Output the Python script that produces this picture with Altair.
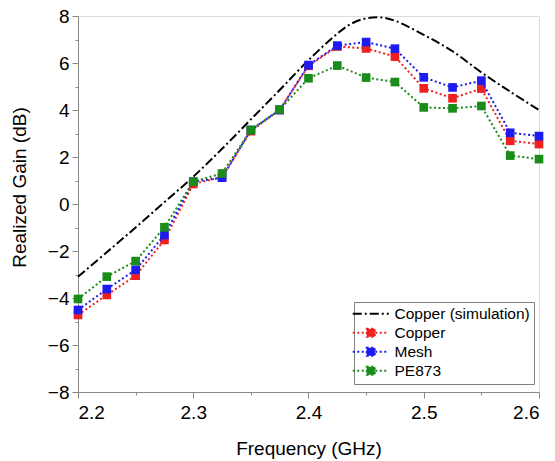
import altair as alt
import pandas as pd

# ---- data ----
freq = [2.2, 2.225, 2.25, 2.275, 2.3, 2.325, 2.35, 2.375, 2.4, 2.425,
        2.45, 2.475, 2.5, 2.525, 2.55, 2.575, 2.6]
copper = [-4.72, -3.87, -3.05, -1.53, 0.85, 1.15, 3.1, 4.0, 5.88, 6.7,
          6.62, 6.27, 4.92, 4.5, 4.91, 2.69, 2.55]
mesh = [-4.51, -3.62, -2.8, -1.32, 0.95, 1.12, 3.15, 4.0, 5.91, 6.74,
        6.89, 6.61, 5.39, 4.96, 5.25, 3.03, 2.89]
pe873 = [-4.04, -3.09, -2.43, -0.99, 0.95, 1.3, 3.15, 4.02, 5.35, 5.89,
         5.38, 5.19, 4.11, 4.07, 4.17, 2.06, 1.91]

sim_freq = [2.2, 2.225, 2.25, 2.275, 2.3, 2.325, 2.35, 2.375, 2.4, 2.425,
            2.4375, 2.45, 2.4625, 2.475, 2.5, 2.525, 2.55, 2.575, 2.6]
sim_gain = [-3.1, -2.05, -1.0, 0.08, 1.16, 2.35, 3.6, 4.85, 6.12, 7.25,
            7.68, 7.9, 7.94, 7.8, 7.2, 6.5, 5.6, 4.78, 4.0]

series_names = ["Copper (simulation)", "Copper", "Mesh", "PE873"]
series_colors = ["#000000", "#ee2020", "#1c1cf0", "#1a8c1a"]
series_dash = [[9, 3, 2, 3], [2, 2.5], [2, 2.5], [2, 2.5]]

x_ticks = [2.2, 2.25, 2.3, 2.35, 2.4, 2.45, 2.5, 2.55, 2.6]
y_ticks = list(range(-8, 9))

FONT = "Liberation Sans"

sim_df = pd.DataFrame({"f": sim_freq, "g": sim_gain, "s": series_names[0]})
meas = {"Copper": copper, "Mesh": mesh, "PE873": pe873}

color_scale = alt.Scale(domain=series_names, range=series_colors)
dash_scale = alt.Scale(domain=series_names, range=series_dash)

sq = "M-3,0L3,0M-0.68,-0.68L0.68,-0.68L0.68,0.68L-0.68,0.68Z"
ln = "M-3,0L3,0"
shape_scale = alt.Scale(domain=series_names, range=[ln, sq, sq, sq])

legend = alt.Legend(
    title=None, orient="none", legendX=276, legendY=286,
    strokeColor="#808080", fillColor="white", padding=4, cornerRadius=0,
    labelFont=FONT, labelFontSize=15.5, labelColor="black",
    symbolSize=144, symbolStrokeWidth=1.8, symbolOffset=5, labelOffset=16,
    rowPadding=2, symbolOpacity=1,
)

x_axis = alt.Axis(
    values=x_ticks, title="Frequency (GHz)", format=".1f",
    labelExpr="abs(datum.value*10 - round(datum.value*10)) < 0.01 ? datum.label : ''",
    tickSize={"condition": {"test": "abs(datum.value*10 - round(datum.value*10)) < 0.01", "value": 6}, "value": 3},
    labelFontSize=19, titleFontSize=19, labelPadding=5,
    titleFontWeight="normal",
    titleY=62, titleBaseline="alphabetic", grid=False,
)
y_axis = alt.Axis(
    values=y_ticks, title="Realized Gain (dB)",
    labelExpr="datum.value % 2 == 0 ? datum.label : ''",
    tickSize={"condition": {"test": "datum.value % 2 == 0", "value": 6}, "value": 3},
    labelFontSize=19, titleFontSize=19, labelPadding=3,
    titleFontWeight="normal",
    titleX=-49, titleY=171, grid=False,
)

xs = alt.X("f:Q", scale=alt.Scale(domain=[2.2, 2.6], nice=False), axis=x_axis)
ys = alt.Y("g:Q", scale=alt.Scale(domain=[-8, 8], nice=False), axis=y_axis)

col = alt.Color("s:N", scale=color_scale, legend=legend)
dash = alt.StrokeDash("s:N", scale=dash_scale, legend=legend)

sim = alt.Chart(sim_df).mark_line(strokeWidth=2, interpolate="catmull-rom").encode(
    x=xs, y=ys, color=col, strokeDash=dash,
)

layers = [sim]
for name in ["Copper", "Mesh", "PE873"]:
    df = pd.DataFrame({"f": freq, "g": meas[name], "s": name})
    base = alt.Chart(df).encode(x=xs, y=ys, color=col)
    line = base.mark_line(strokeWidth=2).encode(strokeDash=dash)
    pts = base.mark_point(shape="square", filled=True, size=75, opacity=1)
    layers += [line, pts]

# legend-carrying layer (zero-size points)
leg_df = pd.DataFrame({
    "f": [sim_freq[0], freq[0], freq[0], freq[0]],
    "g": [sim_gain[0], copper[0], mesh[0], pe873[0]],
    "s": series_names,
})
leg = alt.Chart(leg_df).mark_point(filled=True, size=0, opacity=1).encode(
    x=xs, y=ys, color=col,
    stroke=alt.Stroke("s:N", scale=color_scale, legend=legend),
    strokeDash=dash,
    shape=alt.Shape("s:N", scale=shape_scale, legend=legend),
)
layers.append(leg)

chart = alt.layer(*layers).properties(
    width=461, height=376,
    autosize=alt.AutoSizeParams(type="none"),
    padding={"left": 78, "top": 16, "right": 16, "bottom": 69},
).configure_view(stroke=None).configure_axis(
    labelFont=FONT, titleFont=FONT, labelColor="black", titleColor="black",
    titleFontWeight="normal", domainColor="black", tickColor="black",
    domainWidth=1.5, tickWidth=1.5,
).configure(background="white")

chart.save("out.html", embed_options={"renderer": "svg", "actions": False})
